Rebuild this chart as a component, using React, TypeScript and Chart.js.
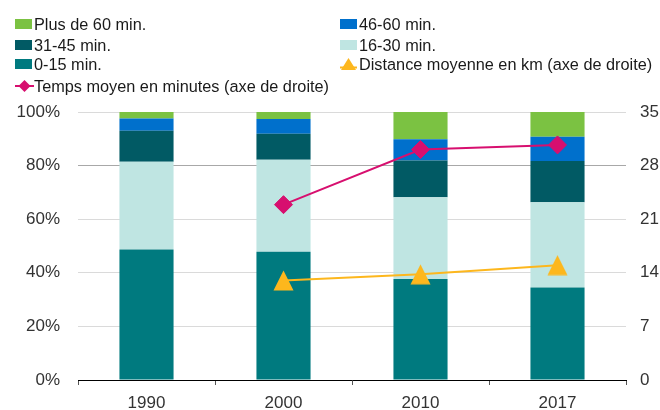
import React, { useEffect, useRef } from 'react';
import { Chart, registerables } from 'chart.js';

Chart.register(...registerables);

const categories = ['1990', '2000', '2010', '2017'];
const share0to15 = [48.7, 47.9, 37.7, 34.5];
const share16to30 = [32.7, 34.3, 30.5, 31.8];
const share31to45 = [11.6, 9.7, 13.7, 15.4];
const share46to60 = [4.6, 5.5, 7.9, 9.1];
const shareOver60 = [2.4, 2.6, 10.2, 9.2];
const avgTimeMinutes = [null, 22.9, 30.1, 30.7];
const avgDistanceKm = [null, 13.0, 13.8, 15.0];
const leftTicks = [0, 20, 40, 60, 80, 100];
const rightTicks = [0, 7, 14, 21, 28, 35];

const C_GREEN = '#7BC242';
const C_BLUE = '#0070CC';
const C_DARK = '#015A64';
const C_LIGHT = '#BFE5E2';
const C_TEAL = '#007A7F';
const C_PINK = '#D70F6F';
const C_ORANGE = '#FDB71D';

const FONT = '"Liberation Sans", Arial, Helvetica, sans-serif';

type LegendItem = { label: string; color: string; kind: 'box' | 'tri' | 'dia'; x: number; y: number };

const legendItems: LegendItem[] = [
  { label: 'Plus de 60 min.', color: C_GREEN, kind: 'box', x: 15, y: 24 },
  { label: '46-60 min.', color: C_BLUE, kind: 'box', x: 340, y: 24 },
  { label: '31-45 min.', color: C_DARK, kind: 'box', x: 15, y: 44.5 },
  { label: '16-30 min.', color: C_LIGHT, kind: 'box', x: 340, y: 44.5 },
  { label: '0-15 min.', color: C_TEAL, kind: 'box', x: 15, y: 64 },
  { label: 'Distance moyenne en km (axe de droite)', color: C_ORANGE, kind: 'tri', x: 340, y: 64 },
  { label: 'Temps moyen en minutes (axe de droite)', color: C_PINK, kind: 'dia', x: 15, y: 86 },
];

function Marker({ item }: { item: LegendItem }) {
  if (item.kind === 'box') {
    return <div style={{ width: 17, height: 10, background: item.color }} />;
  }
  if (item.kind === 'tri') {
    return (
      <svg width={17} height={14} style={{ display: 'block' }}>
        <line x1={0} y1={10.5} x2={17} y2={10.5} stroke={item.color} strokeWidth={2} />
        <polygon points="8.5,1 16,13 1,13" fill={item.color} />
      </svg>
    );
  }
  return (
    <svg width={19} height={14} style={{ display: 'block' }}>
      <line x1={0} y1={7} x2={19} y2={7} stroke={item.color} strokeWidth={2} />
      <polygon points="9.5,1 15.5,7 9.5,13 3.5,7" fill={item.color} />
    </svg>
  );
}

function makeTriangle(color: string): HTMLCanvasElement {
  const c = document.createElement('canvas');
  c.width = 21;
  c.height = 21;
  const g = c.getContext('2d');
  if (g) {
    g.fillStyle = color;
    g.beginPath();
    g.moveTo(10.5, 0.5);
    g.lineTo(20.5, 20.5);
    g.lineTo(0.5, 20.5);
    g.closePath();
    g.fill();
  }
  return c;
}

export default function App() {
  const canvasRef = useRef<HTMLCanvasElement | null>(null);

  useEffect(() => {
    const canvas = canvasRef.current;
    if (!canvas) return;
    const tri = makeTriangle(C_ORANGE);
    const chart = new Chart(canvas, {
      type: 'bar',
      data: {
        labels: categories,
        datasets: [
          {
            type: 'line',
            label: 'Temps moyen en minutes (axe de droite)',
            data: avgTimeMinutes,
            yAxisID: 'y1',
            borderColor: C_PINK,
            backgroundColor: C_PINK,
            borderWidth: 2,
            pointStyle: 'rectRot',
            pointRadius: 9,
            pointBorderWidth: 1,
            pointBackgroundColor: C_PINK,
            pointBorderColor: C_PINK,
            order: 0,
          } as any,
          {
            type: 'line',
            label: 'Distance moyenne en km (axe de droite)',
            data: avgDistanceKm,
            yAxisID: 'y1',
            borderColor: C_ORANGE,
            backgroundColor: C_ORANGE,
            borderWidth: 2,
            pointStyle: tri,
            pointRadius: 10,
            pointBackgroundColor: C_ORANGE,
            pointBorderColor: C_ORANGE,
            order: 0,
          } as any,
          { label: '0-15 min.', data: share0to15, backgroundColor: C_TEAL, yAxisID: 'y', stack: 's', order: 1 },
          { label: '16-30 min.', data: share16to30, backgroundColor: C_LIGHT, yAxisID: 'y', stack: 's', order: 1 },
          { label: '31-45 min.', data: share31to45, backgroundColor: C_DARK, yAxisID: 'y', stack: 's', order: 1 },
          { label: '46-60 min.', data: share46to60, backgroundColor: C_BLUE, yAxisID: 'y', stack: 's', order: 1 },
          { label: 'Plus de 60 min.', data: shareOver60, backgroundColor: C_GREEN, yAxisID: 'y', stack: 's', order: 1 },
        ],
      },
      options: {
        responsive: false,
        animation: false,
        categoryPercentage: 1,
        barPercentage: 0.395,
        layout: { padding: { top: 112, left: 0, right: 0, bottom: 0 } },
        plugins: {
          legend: { display: false },
          tooltip: { enabled: false },
          title: { display: false },
        },
        scales: {
          x: {
            stacked: true,
            offset: true,
            grid: {
              display: true,
              drawOnChartArea: false,
              drawTicks: true,
              tickLength: 5,
              color: '#555555',
              offset: true,
            },
            border: { display: true, color: '#000000', width: 1 },
            ticks: {
              color: '#333333',
              font: { family: FONT, size: 17 },
              padding: 8,
              maxRotation: 0,
            },
            afterFit: (s: any) => {
              s.height = 30;
            },
          },
          y: {
            type: 'linear',
            position: 'left',
            stacked: true,
            min: 0,
            max: 100,
            grid: {
              drawTicks: false,
              color: (ctx: any) => (ctx.tick && ctx.tick.value === 80 ? '#a8a8a8' : '#dadada'),
              lineWidth: 1,
            },
            border: { display: false },
            afterBuildTicks: (s: any) => {
              s.ticks = leftTicks.map((v) => ({ value: v }));
            },
            ticks: {
              color: '#333333',
              font: { family: FONT, size: 17 },
              padding: 18,
              callback: (v: any) => `${v}%`,
            },
            afterFit: (s: any) => {
              s.width = 78;
            },
          },
          y1: {
            type: 'linear',
            position: 'right',
            min: 0,
            max: 35,
            grid: { drawOnChartArea: false, drawTicks: false },
            border: { display: false },
            afterBuildTicks: (s: any) => {
              s.ticks = rightTicks.map((v) => ({ value: v }));
            },
            ticks: {
              color: '#333333',
              font: { family: FONT, size: 17 },
              padding: 14,
            },
            afterFit: (s: any) => {
              s.width = 34;
            },
          },
        },
      } as any,
    });
    return () => chart.destroy();
  }, []);

  return (
    <div style={{ position: 'fixed', left: 0, top: 0, width: 660, height: 410, background: '#ffffff', overflow: 'hidden' }}>
      <canvas ref={canvasRef} width={660} height={410} style={{ position: 'absolute', left: 0, top: 0, width: 660, height: 410 }} />
      {legendItems.map((it) => (
        <div
          key={it.label}
          style={{
            position: 'absolute',
            left: it.x,
            top: it.y - 10,
            height: 20,
            display: 'flex',
            alignItems: 'center',
            whiteSpace: 'nowrap',
            fontFamily: FONT,
            fontSize: 16.3,
            color: '#1a1a1a',
          }}
        >
          <Marker item={it} />
          <span style={{ marginLeft: it.kind === 'dia' ? 0 : 2, lineHeight: '20px' }}>{it.label}</span>
        </div>
      ))}
    </div>
  );
}
